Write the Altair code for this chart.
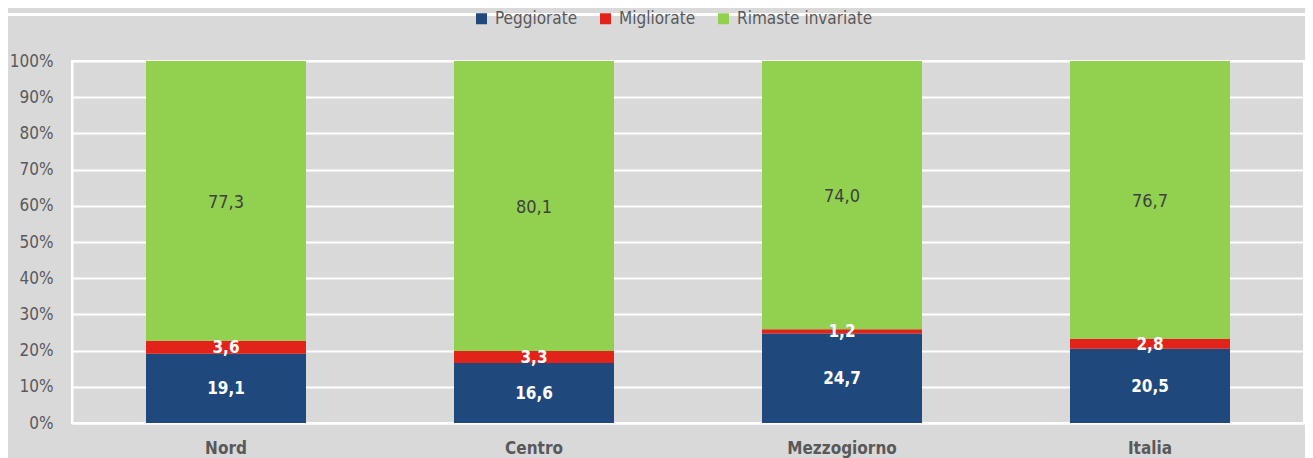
import altair as alt
import pandas as pd

regions = ["Nord", "Centro", "Mezzogiorno", "Italia"]
series = ["Peggiorate", "Migliorate", "Rimaste invariate"]
peggiorate = [19.1, 16.6, 24.7, 20.5]
migliorate = [3.6, 3.3, 1.2, 2.8]
invariate = [77.3, 80.1, 74.0, 76.7]
colors = ["#1f497d", "#e2231a", "#92d050"]
yticks = [0.0, 0.1, 0.2, 0.3, 0.4, 0.5, 0.6, 0.7, 0.8, 0.9, 1.0]

rows = []
for i, r in enumerate(regions):
    for k, (s, vals) in enumerate(zip(series, [peggiorate, migliorate, invariate])):
        v = vals[i]
        rows.append({"region": r, "serie": s, "value": v, "ord": k,
                     "label": f"{v:.1f}".replace(".", ",")})
df = pd.DataFrame(rows)

FONT = "DejaVu Sans Condensed, Liberation Sans Narrow, sans-serif"

xaxis = alt.Axis(labelAngle=0, labelFont=FONT, labelFontSize=17,
                 labelFontWeight="bold", labelColor="#595959",
                 ticks=False, labelPadding=17, domainColor="white",
                 domainWidth=2)
yaxis = alt.Axis(format=".0%", values=yticks, labelOverlap=False,
                 labelFont=FONT, labelFontSize=17, labelColor="#595959",
                 ticks=False, labelPadding=19, gridColor="white",
                 gridWidth=2, domainColor="white", domainWidth=2)
xscale = alt.Scale(paddingInner=0.48, paddingOuter=0.24)
yscale = alt.Scale(domain=[0, 1])

base = alt.Chart(df)

topline = alt.Chart(pd.DataFrame({"a": [0]})).mark_rect(
    color="white", clip=False
).encode(
    x=alt.value(-80), x2=alt.value(1300),
    y=alt.value(-48), y2=alt.value(-45),
)

bars = base.mark_bar(size=160).encode(
    x=alt.X("region:N", sort=regions, title=None, scale=xscale, axis=xaxis),
    y=alt.Y("value:Q", stack="normalize", title=None, scale=yscale, axis=yaxis),
    color=alt.Color("serie:N", sort=series,
                    scale=alt.Scale(domain=series, range=colors),
                    legend=alt.Legend(orient="none", legendX=401, legendY=-51,
                                      direction="horizontal", title=None,
                                      symbolType="square", symbolSize=121,
                                      symbolStrokeWidth=0,
                                      labelFont=FONT, labelFontSize=17,
                                      labelColor="#595959", columnPadding=19,
                                      labelOffset=5)),
    order=alt.Order("ord:Q"),
)

stacked = base.transform_stack(
    stack="value", groupby=["region"], sort=[alt.SortField("ord")],
    as_=["y0", "y1"], offset="normalize"
).transform_calculate(
    mid="(datum.y0 + datum.y1) / 2",
)

texts_white = stacked.transform_filter("datum.ord < 2").mark_text(
    font=FONT, fontSize=17, fontWeight="bold", baseline="middle", color="white", dy=1
).encode(
    x=alt.X("region:N", sort=regions, title=None, scale=xscale, axis=xaxis),
    y=alt.Y("mid:Q", title=None, scale=yscale, axis=yaxis),
    text="label:N",
)

texts_gray = stacked.transform_filter("datum.ord == 2").mark_text(
    font=FONT, fontSize=18, baseline="middle", color="#404040", dy=2
).encode(
    x=alt.X("region:N", sort=regions, title=None, scale=xscale, axis=xaxis),
    y=alt.Y("mid:Q", title=None, scale=yscale, axis=yaxis),
    text="label:N",
)

chart = alt.layer(bars, texts_white, texts_gray, topline).properties(
    width=1232, height=362,
    autosize=alt.AutoSizeParams(type="none"),
    padding={"left": 64, "top": 53, "right": 1, "bottom": 35},
    background="#d9d9d9",
).configure_view(stroke="white", strokeWidth=2)

chart.save("out.html", embed_options={"renderer": "svg", "actions": False})
